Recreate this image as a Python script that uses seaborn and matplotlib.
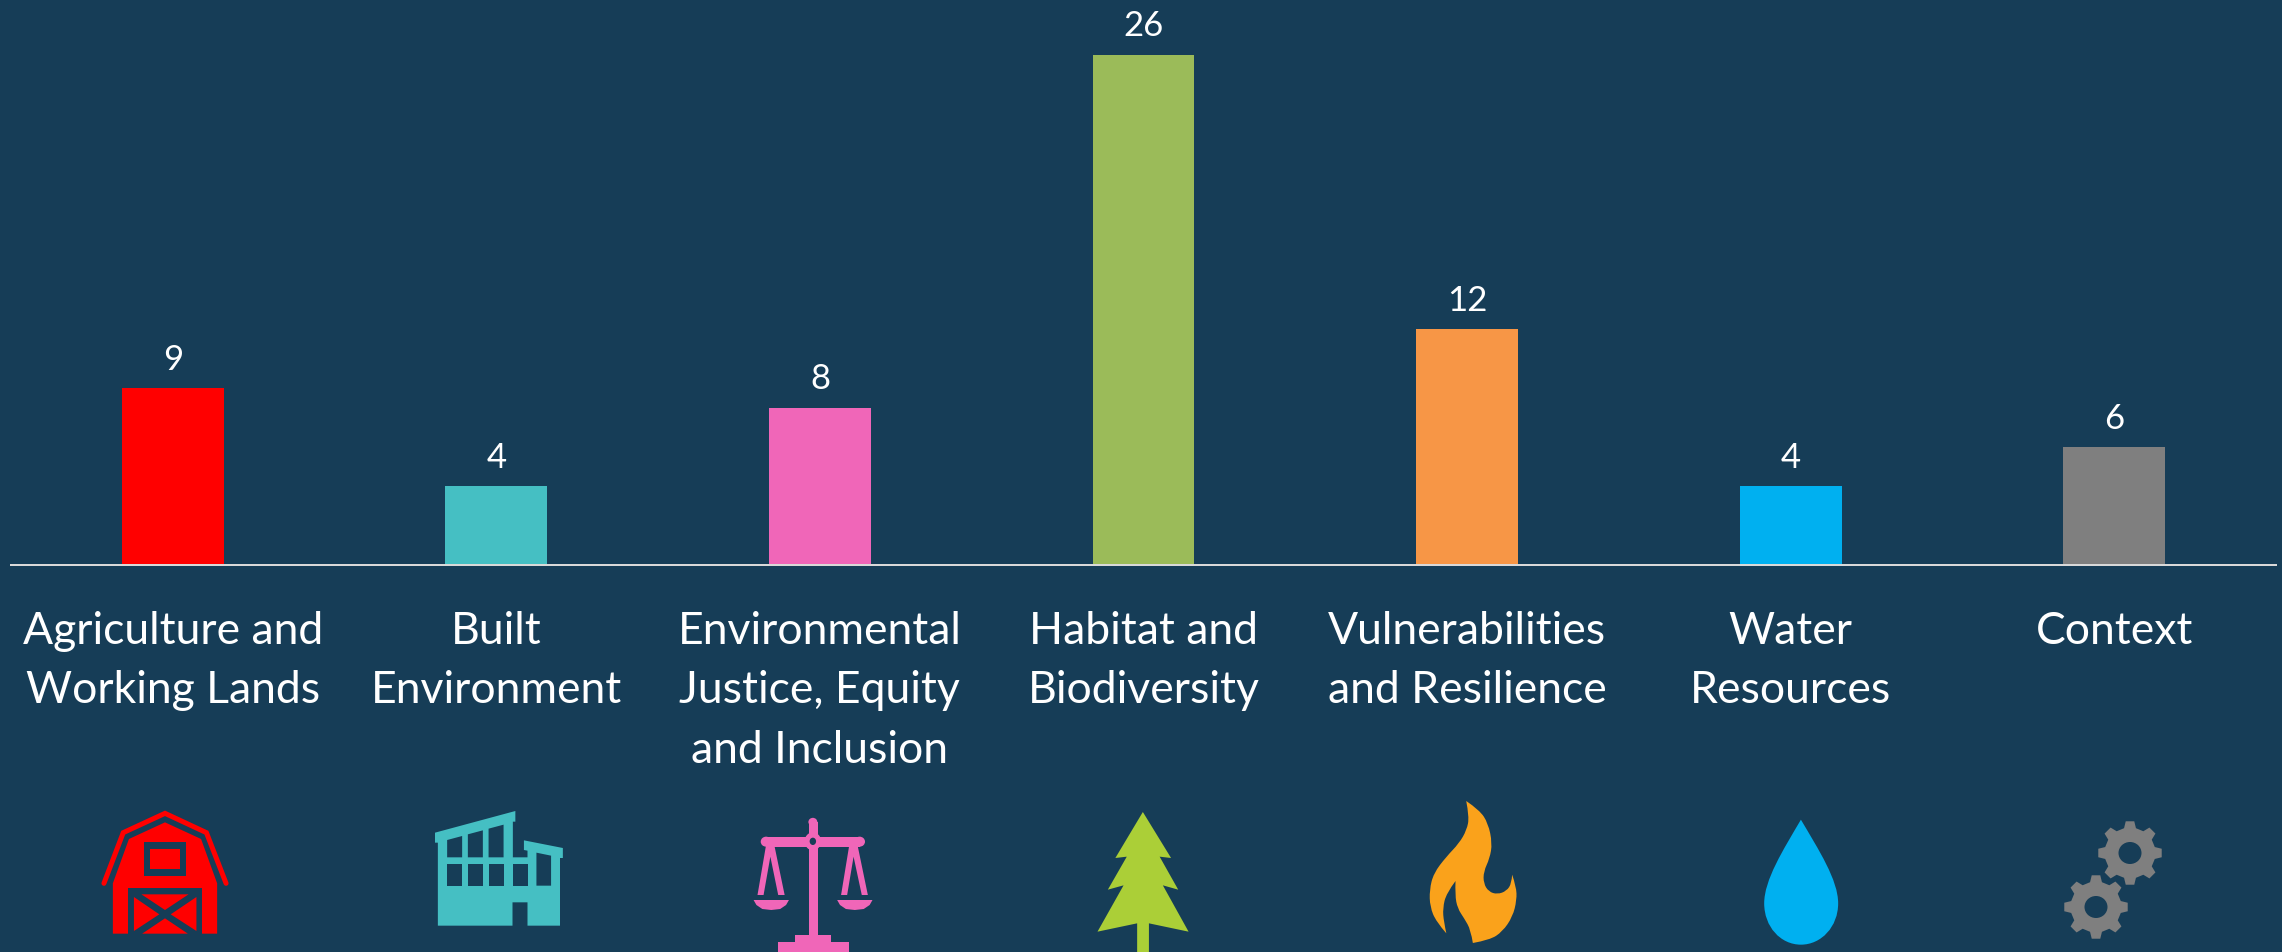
import numpy as np
import pandas as pd
import matplotlib
matplotlib.use("Agg")
import matplotlib.pyplot as plt
from matplotlib.patches import Polygon, Ellipse, PathPatch
from matplotlib.path import Path
import seaborn as sns

categories = ["Agriculture and\nWorking Lands", "Built\nEnvironment",
              "Environmental\nJustice, Equity\nand Inclusion", "Habitat and\nBiodiversity",
              "Vulnerabilities\nand Resilience", "Water\nResources", "Context"]
values = [9, 4, 8, 26, 12, 4, 6]
bar_colors = ["#FF0000", "#45BFC3", "#F066B8", "#9BBB59", "#F79646", "#00B0F0", "#7F7F7F"]
BG = "#163D57"

sns.set_theme(style="white")
plt.rcParams["font.family"] = ["Lato", "DejaVu Sans"]

fig = plt.figure(figsize=(22.82, 9.52), dpi=100, facecolor=BG)
W, H = 2282, 952
ax = fig.add_axes([11 / W, (H - 565) / H, 2265 / W, 565 / H], facecolor=BG)
df = pd.DataFrame({"cat": categories, "val": values})
sns.barplot(data=df, x="cat", y="val", hue="cat", palette=bar_colors, legend=False,
            width=0.315, saturation=1, linewidth=0, ax=ax)
ax.set_xlim(-0.5, 6.5)
ax.set_ylim(0, 565 / 19.63)
ax.set_xlabel("")
ax.set_ylabel("")
ax.set_yticks([])
for s in ["top", "left", "right"]:
    ax.spines[s].set_visible(False)
ax.spines["bottom"].set_color("#D9D9D9")
ax.spines["bottom"].set_linewidth(1.44)
ax.tick_params(axis="x", length=0, pad=33, colors="white")
for t in ax.get_xticklabels():
    t.set_fontsize(32)
    t.set_color("white")
    t.set_linespacing(1.56)
for c in ax.containers:
    ax.bar_label(c, padding=9, color="white", fontsize=25)

# Decorative icons, drawn in figure pixels
ic = fig.add_axes([0, 0, 1, 1], facecolor="none")
ic.set_xlim(0, W)
ic.set_ylim(H, 0)
ic.axis("off")


def mapper(ox, oy, zw):
    sx = 1568 / zw
    return lambda pts: [(ox + x / sx, oy + y / 3) for x, y in pts]


def poly(m, pts, color):
    ic.add_patch(Polygon(m(pts), closed=True, fc=color, ec="none"))


def rect(m, x0, y0, x1, y1, color):
    poly(m, [(x0, y0), (x1, y0), (x1, y1), (x0, y1)], color)


def smooth(m, pts, corners, color):
    """Closed quadratic outline through the midpoints, keeping listed corners sharp."""
    start = pts.index(corners[0])
    pts = pts[start:] + pts[:start]
    verts, codes = [pts[0]], [Path.MOVETO]
    n = len(pts)
    for i in range(1, n + 1):
        p = pts[i % n]
        nxt = pts[(i + 1) % n]
        if p in corners:
            verts.append(p)
            codes.append(Path.LINETO)
        else:
            end = nxt if nxt in corners else ((p[0] + nxt[0]) / 2, (p[1] + nxt[1]) / 2)
            verts += [p, end]
            codes += [Path.CURVE3, Path.CURVE3]
    ic.add_patch(PathPatch(Path(m(verts), codes), fc=color, ec="none"))


m1 = mapper(60, 780, 560)
m2 = mapper(700, 780, 560)
m3 = mapper(1380, 780, 800)

# barn
RED = "#FF0000"
poly(m1, [(148, 310), (193, 177), (294, 127), (395, 177), (440, 310), (440, 461), (148, 461)], RED)
roof = np.array(m1([(123, 310), (177, 158), (294, 100), (410, 158), (465, 310)]))
ic.plot(roof[:, 0], roof[:, 1], color=RED, lw=3.6, solid_capstyle="round", solid_joinstyle="miter")
rect(m1, 236, 187, 353, 287, BG)
rect(m1, 252, 207, 336, 267, RED)
rect(m1, 190, 323, 398, 462, BG)
poly(m1, [(228, 343), (360, 343), (294, 390)], RED)
poly(m1, [(207, 351), (278, 403), (207, 453)], RED)
poly(m1, [(382, 351), (310, 403), (382, 453)], RED)
poly(m1, [(230, 461), (294, 415), (358, 461)], RED)

# building
TEAL = "#45BFC3"
poly(m1, [(1050, 158), (1275, 93), (1275, 125), (1268, 125), (1268, 232), (1309, 232), (1309, 212),
          (1299, 210), (1299, 181), (1408, 204), (1408, 234), (1400, 234), (1400, 437), (1309, 437),
          (1309, 367), (1267, 367), (1267, 437), (1058, 437), (1058, 188), (1050, 188)], TEAL)
poly(m1, [(1084, 180), (1126, 168), (1126, 232), (1084, 232)], BG)
poly(m1, [(1142, 163), (1184, 151), (1184, 232), (1142, 232)], BG)
poly(m1, [(1200, 146), (1242, 134), (1242, 232), (1200, 232)], BG)
for a, b in [(1084, 1126), (1142, 1184), (1200, 1242), (1267, 1309)]:
    rect(m1, a, 252, b, 317, BG)
poly(m1, [(1334, 218), (1375, 227), (1375, 317), (1334, 317)], BG)

# scales
PINK = "#F066B8"
rect(m2, 304, 125, 329, 470, PINK)
ic.add_patch(Ellipse(m2([(316, 126)])[0], 25 / 2.8, 25 / 3, fc=PINK, ec="none"))
rect(m2, 185, 170, 447, 200, PINK)
for xx in (185, 447):
    ic.add_patch(Ellipse(m2([(xx, 185)])[0], 30 / 2.8, 30 / 3, fc=PINK, ec="none"))
ic.add_patch(Ellipse(m2([(316, 184)])[0], 46 / 2.8, 54 / 3, fc=PINK, ec="none"))
ic.add_patch(Ellipse(m2([(316, 184)])[0], 18 / 2.8, 22 / 3, fc=BG, ec="none"))
poly(m2, [(161, 345), (185, 195), (208, 195), (237, 345), (219, 345), (197, 230), (178, 345)], PINK)
poly(m2, [(395, 345), (418, 195), (441, 195), (470, 345), (453, 345), (430, 230), (412, 345)], PINK)
for a, b in [(150, 249), (384, 483)]:
    c = (a + b) / 2
    poly(m2, [(a, 360), (b, 360), (b - 8, 375), (c + 25, 387), (c, 390), (c - 25, 387), (a + 8, 375)], PINK)
rect(m2, 267, 465, 367, 487, PINK)
rect(m2, 217, 485, 416, 516, PINK)

# tree
poly(m2, [(1240, 96), (1319, 234), (1287, 230), (1339, 329), (1296, 316), (1368, 455), (1257, 430),
          (1257, 516), (1224, 516), (1224, 430), (1113, 455), (1186, 316), (1142, 329), (1195, 230),
          (1163, 234)], "#ABCF37")

# flame
flame = [(169, 63), (195, 90), (212, 130), (220, 190), (215, 235), (203, 275), (203, 310), (213, 335),
         (230, 343), (248, 333), (258, 310), (259, 284), (267, 320), (268, 360), (260, 410), (240, 455),
         (215, 480), (182, 489), (178, 450), (165, 415), (152, 385), (147, 345), (148, 303), (130, 340),
         (123, 385), (125, 425), (130, 460), (110, 425), (98, 380), (97, 330), (105, 280), (130, 230),
         (155, 190), (170, 150), (175, 110)]
smooth(m3, flame, [(169, 63), (259, 284), (182, 489), (148, 303), (130, 460)], "#FAA21B")

# drop
drop = m3([(825, 119), (790, 210), (753, 300), (753, 370), (753, 440), (785, 494), (825, 494),
           (865, 494), (898, 440), (898, 370), (898, 300), (860, 210), (825, 119)])
codes = [Path.MOVETO] + [Path.CURVE4] * 12
ic.add_patch(PathPatch(Path(drop, codes), fc="#00B0F0", ec="none"))


# gears
def gear(cx, cy, ro=32, ri=25.5, n=8, rot=0.0):
    pts = []
    step = 2 * np.pi / n
    for k in range(n):
        a = rot + k * step
        for d, r in [(-0.30, ri), (-0.17, ro), (0.17, ro), (0.30, ri)]:
            pts.append((cx + r * np.sin(a + d * step), cy - r * np.cos(a + d * step)))
    ic.add_patch(Polygon(pts, closed=True, fc="#7F7F7F", ec="none"))
    ic.add_patch(Ellipse((cx, cy), 23, 22, fc=BG, ec="none"))


gear(2130, 853)
gear(2096, 907)

fig.savefig("out.png", dpi=100, facecolor=BG)
